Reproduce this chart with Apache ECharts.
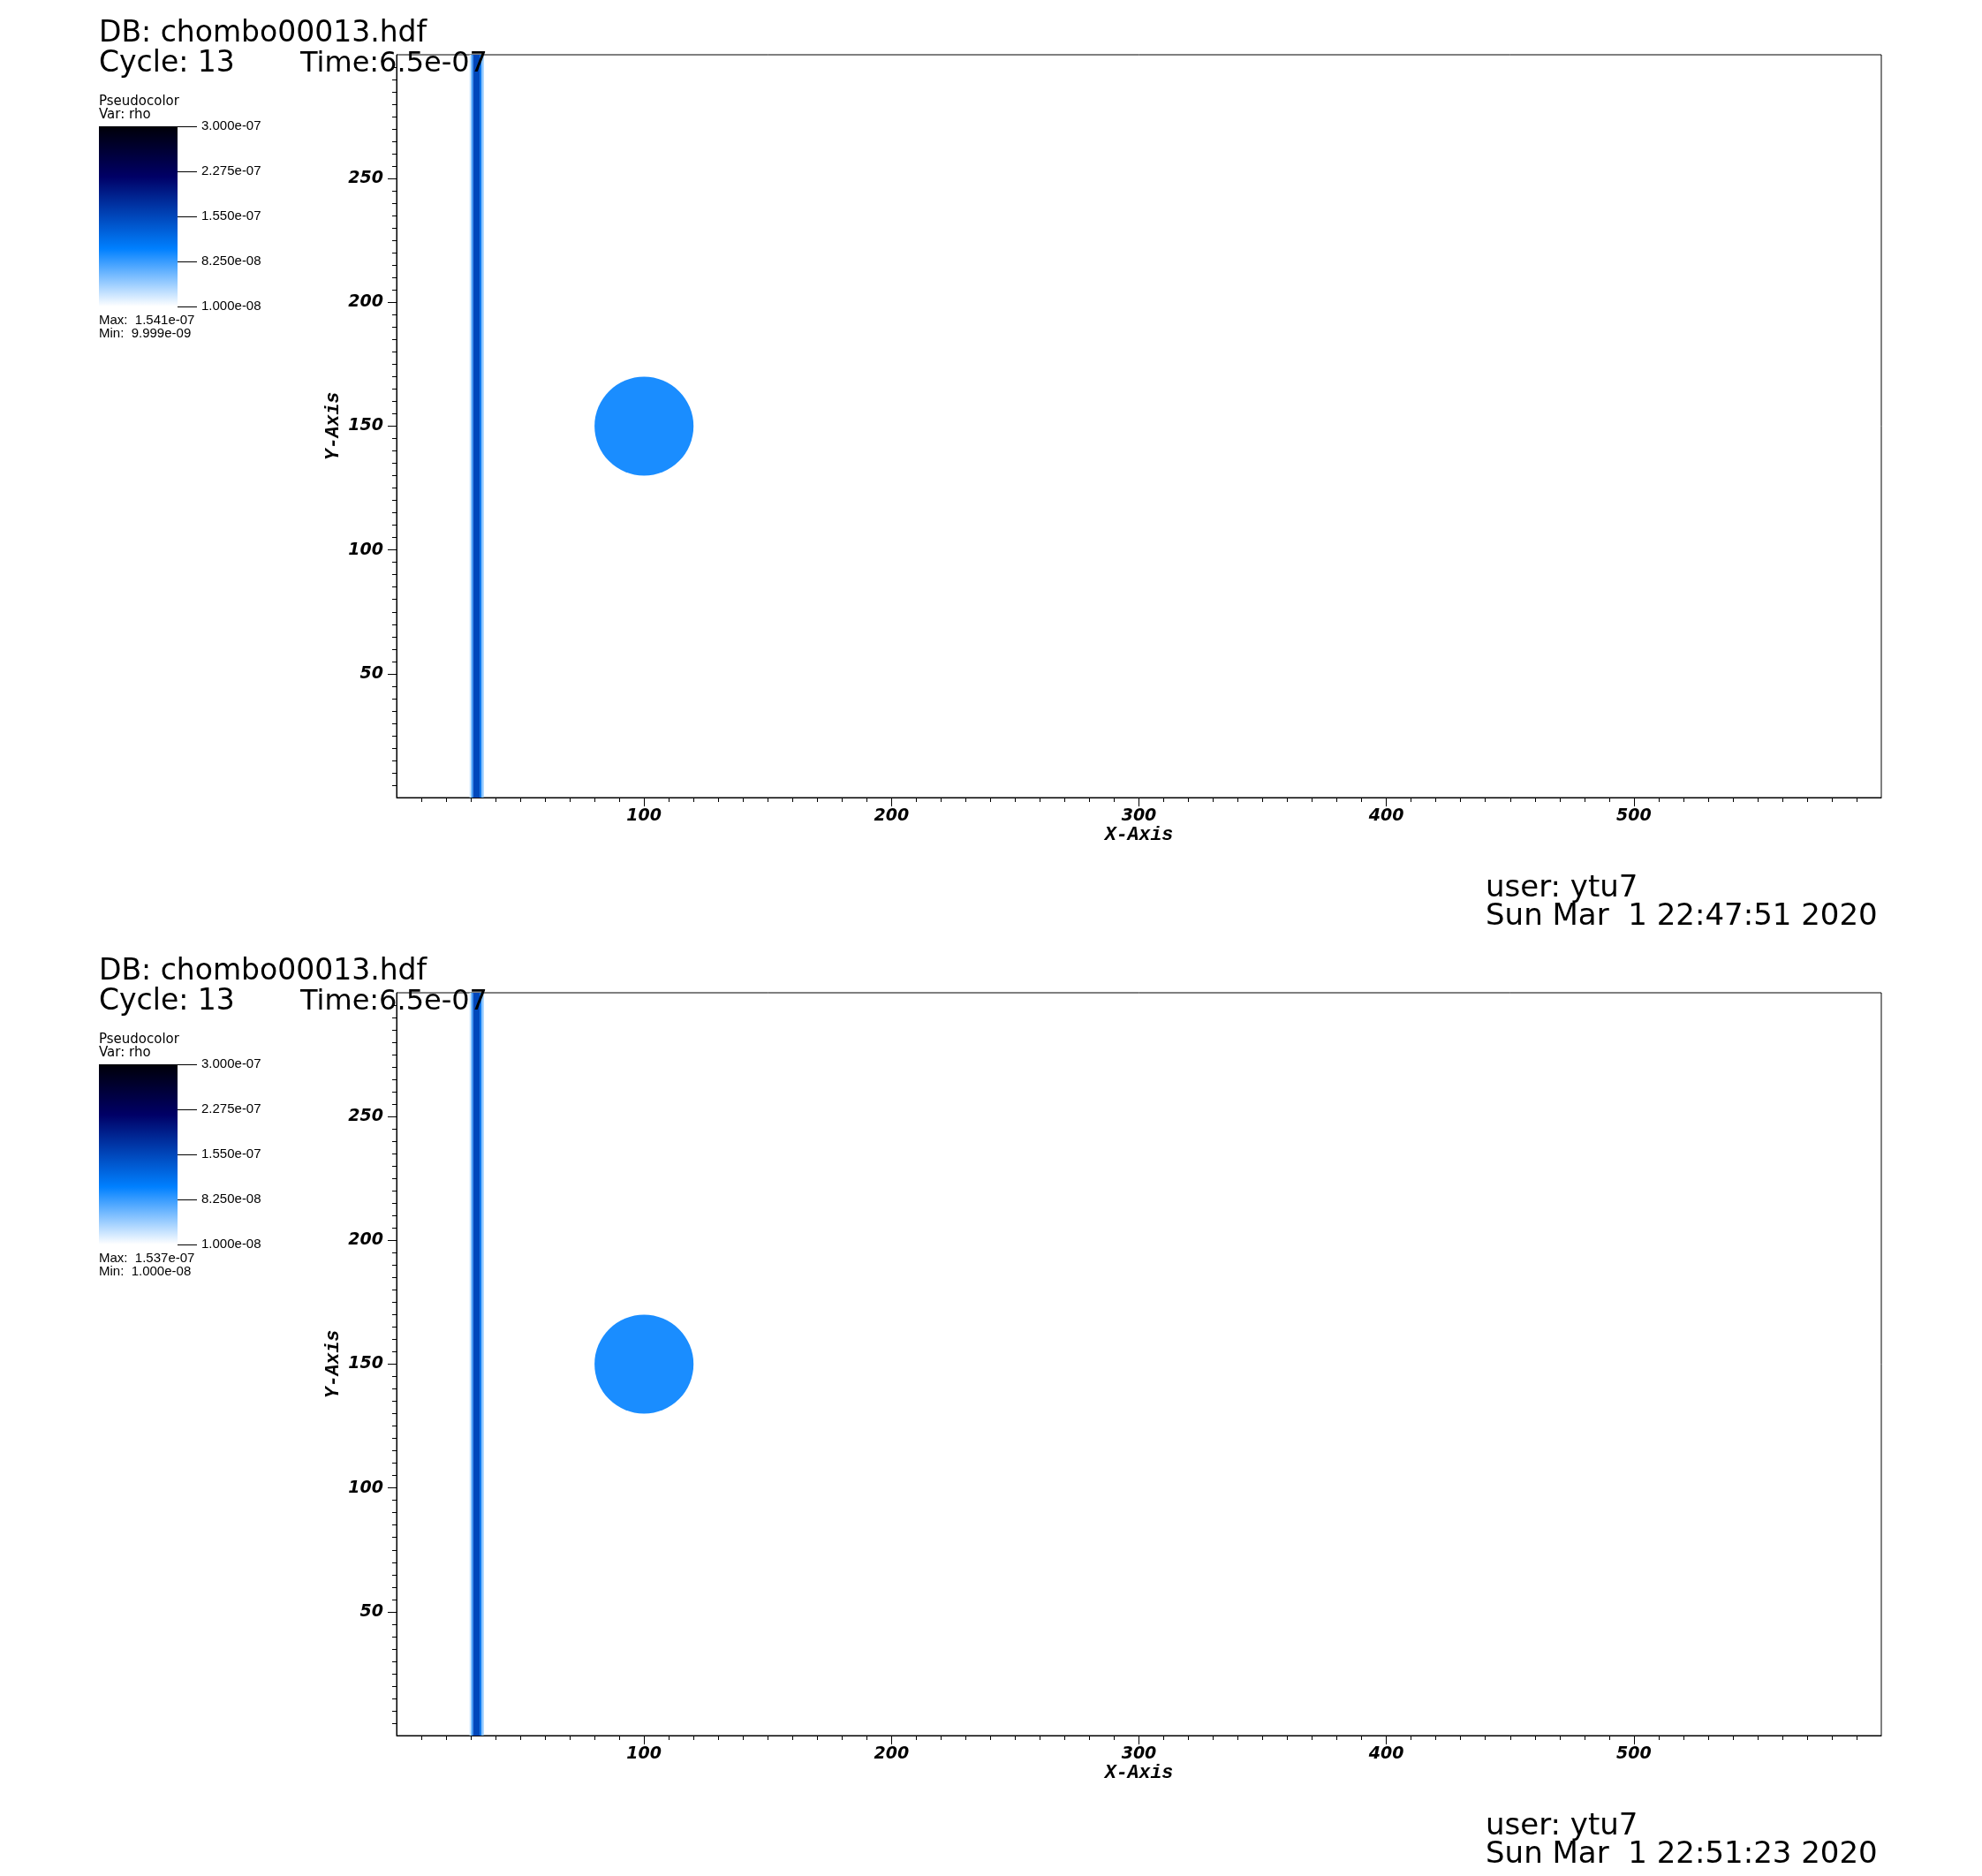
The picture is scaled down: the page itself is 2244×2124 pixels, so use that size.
<!DOCTYPE html>
<html><head><meta charset="utf-8">
<script src="https://cdn.jsdelivr.net/npm/echarts@6/dist/echarts.min.js"></script>
<style>html,body{margin:0;padding:0;background:#fff}#c{width:2244px;height:2124px}</style>
</head><body><div id="c"></div>
<script>
// ---------- data ----------
const dbName = 'DB: chombo00013.hdf';
const cycleText = 'Cycle: 13';
const timeText = 'Time:6.5e-07';
const plotName = 'Pseudocolor';
const varText = 'Var: rho';
const maxTexts = ['Max:  1.541e-07', 'Max:  1.537e-07'];
const minTexts = ['Min:  9.999e-09', 'Min:  1.000e-08'];
const userText = 'user: ytu7';
const dateTexts = ['Sun Mar  1 22:47:51 2020', 'Sun Mar  1 22:51:23 2020'];
const xTickLabels = [100, 200, 300, 400, 500];
const yTickLabels = [50, 100, 150, 200, 250];
const cbarTickLabels = ['1.000e-08', '8.250e-08', '1.550e-07', '2.275e-07', '3.000e-07'];
const rhoMin = 1e-8, rhoMax = 3e-7;
const cmapPos = [0, 0.32, 0.72, 1];
const cmapColors = ['#ffffff', '#0080ff', '#000066', '#000008'];
// vertical shock band strips: [x0, x1, rho]
const bandStrips = [[29.5, 30.2, 2.7e-8], [30.2, 30.9, 8.2e-8], [30.9, 33.6, 1.541e-7], [33.6, 34.3, 1.17e-7], [34.3, 35.2, 5.2e-8]];
// bubble: [cx, cy, r, rho]
const bubble = [[100, 150, 20, 9.35e-8]];

// ---------- helpers ----------
function cmap(v) {
  let t = (v - rhoMin) / (rhoMax - rhoMin);
  t = Math.max(0, Math.min(1, t));
  for (let i = 0; i < cmapPos.length - 1; i++) {
    if (t <= cmapPos[i + 1]) {
      const l = (t - cmapPos[i]) / (cmapPos[i + 1] - cmapPos[i]);
      return echarts.color.lerp(l, [cmapColors[i], cmapColors[i + 1]]);
    }
  }
  return cmapColors[cmapColors.length - 1];
}
const X_MIN = 0, X_MAX = 600, Y_MIN = 0, Y_MAX = 300;
const panelOffsets = [0, 1062];
const axisFont = { fontFamily: 'DejaVu Sans', fontWeight: 'bold', fontStyle: 'italic', fontSize: 19, color: '#000' };
const nameFont = { fontFamily: 'Liberation Mono', fontWeight: 'bold', fontStyle: 'italic', fontSize: 21.5, color: '#000' };
const smallFont = '"Liberation Sans", "DejaVu Sans"';

const grids = [], xAxes = [], yAxes = [], series = [], graphics = [];

panelOffsets.forEach((off, p) => {
  // main plot grid
  grids.push({ left: 449, top: 62 + off, width: 1681, height: 841, show: true, borderColor: '#000', borderWidth: 1, backgroundColor: 'rgba(0,0,0,0)' });
  const gi = grids.length - 1;
  xAxes.push({
    gridIndex: gi, type: 'value', min: X_MIN, max: X_MAX, interval: 100,
    axisLine: { show: true, onZero: false, lineStyle: { color: '#000', width: 1 } },
    axisTick: { show: true, length: 10, customValues: xTickLabels, lineStyle: { color: '#000', width: 1 } },
    minorTick: { show: true, splitNumber: 10, length: 5, lineStyle: { color: '#000', width: 1 } },
    splitLine: { show: false }, minorSplitLine: { show: false },
    axisLabel: Object.assign({ margin: 12, showMinLabel: true, showMaxLabel: true, formatter: v => xTickLabels.includes(v) ? String(v) : '' }, axisFont),
    name: 'X-Axis', nameLocation: 'middle', nameGap: 32, nameMoveOverlap: false, nameTextStyle: nameFont
  });
  yAxes.push({
    gridIndex: gi, type: 'value', min: Y_MIN, max: Y_MAX, interval: 50,
    axisLine: { show: true, onZero: false, lineStyle: { color: '#000', width: 1 } },
    axisTick: { show: true, length: 10, customValues: yTickLabels, lineStyle: { color: '#000', width: 1 } },
    minorTick: { show: true, splitNumber: 10, length: 5, lineStyle: { color: '#000', width: 1 } },
    splitLine: { show: false }, minorSplitLine: { show: false },
    axisLabel: Object.assign({ margin: 15, formatter: v => yTickLabels.includes(v) ? String(v) : '' }, axisFont),
    name: 'Y-Axis', nameLocation: 'middle', nameGap: 60, nameMoveOverlap: false, nameRotate: 90, nameTextStyle: nameFont
  });
  const ai = xAxes.length - 1;
  series.push({
    type: 'custom', xAxisIndex: ai, yAxisIndex: ai, clip: true, z: 2,
    data: bandStrips,
    renderItem: (params, api) => {
      const a = api.coord([api.value(0), Y_MAX]);
      const b = api.coord([api.value(1), Y_MIN]);
      return { type: 'rect', shape: { x: a[0], y: a[1], width: b[0] - a[0], height: b[1] - a[1] }, style: { fill: cmap(api.value(2)) } };
    }
  });
  series.push({
    type: 'custom', xAxisIndex: ai, yAxisIndex: ai, clip: true, z: 3,
    data: bubble,
    renderItem: (params, api) => {
      const c = api.coord([api.value(0), api.value(1)]);
      const s = api.size([api.value(2), api.value(2)]);
      return { type: 'circle', shape: { cx: c[0], cy: c[1], r: s[0] }, style: { fill: cmap(api.value(3)) } };
    }
  });

  // colorbar grid
  grids.push({ left: 112, top: 143 + off, width: 89, height: 204, show: false });
  xAxes.push({ gridIndex: grids.length - 1, type: 'value', min: 0, max: 1, show: false });
  yAxes.push({
    gridIndex: grids.length - 1, type: 'value', min: 0, max: cbarTickLabels.length - 1, interval: 1, position: 'right',
    axisLine: { show: false }, splitLine: { show: false }, axisTick: { show: false },
    axisLabel: { margin: 27, color: '#000', fontFamily: smallFont, fontSize: 15, formatter: v => cbarTickLabels[v] }
  });
  const ci = xAxes.length - 1;
  series.push({
    type: 'custom', xAxisIndex: ci, yAxisIndex: ci, z: 2, clip: false,
    data: [[0, cbarTickLabels.length - 1]],
    renderItem: (params, api) => {
      const a = api.coord([0, api.value(1)]);
      const b = api.coord([1, api.value(0)]);
      const stops = cmapPos.map((pp, i) => ({ offset: pp, color: cmapColors[i] }));
      return { type: 'rect', shape: { x: a[0], y: a[1], width: b[0] - a[0], height: b[1] - a[1] },
        style: { fill: new echarts.graphic.LinearGradient(0, 1, 0, 0, stops) } };
    }
  });
  series.push({
    type: 'custom', xAxisIndex: ci, yAxisIndex: ci, z: 3, clip: false,
    data: cbarTickLabels.map((_, i) => [1, i]),
    renderItem: (params, api) => {
      const a = api.coord([api.value(0), api.value(1)]);
      const y = Math.round(a[1]) + 0.5;
      return { type: 'line', shape: { x1: a[0], y1: y, x2: a[0] + 22, y2: y }, style: { stroke: '#000', lineWidth: 1 } };
    }
  });

  // texts
  const T = (text, x, baseline, size, fam) => ({
    type: 'text', z: 100, style: { text, x, y: baseline - 0.3 * size, font: size + 'px ' + (fam || '"DejaVu Sans"'), fill: '#000', verticalAlign: 'middle', align: 'left' }
  });
  graphics.push(T(dbName, 112, 48 + off, 33));
  graphics.push(T(cycleText, 112, 82 + off, 33));
  graphics.push(T(timeText, 340, 82 + off, 32));
  graphics.push(T(plotName, 112, 120 + off, 15));
  graphics.push(T(varText, 112, 135 + off, 15));
  graphics.push(T(maxTexts[p], 112, 367 + off, 15, smallFont));
  graphics.push(T(minTexts[p], 112, 382 + off, 15, smallFont));
  graphics.push(T(userText, 1682, 1016 + off, 34));
  graphics.push(T(dateTexts[p], 1682, 1048 + off, 34));
});

const chart = echarts.init(document.getElementById('c'), null, { renderer: 'canvas' });
chart.setOption({
  animation: false,
  backgroundColor: '#fff',
  grid: grids, xAxis: xAxes, yAxis: yAxes, series: series,
  graphic: { elements: graphics }
});
</script>
</body></html>
